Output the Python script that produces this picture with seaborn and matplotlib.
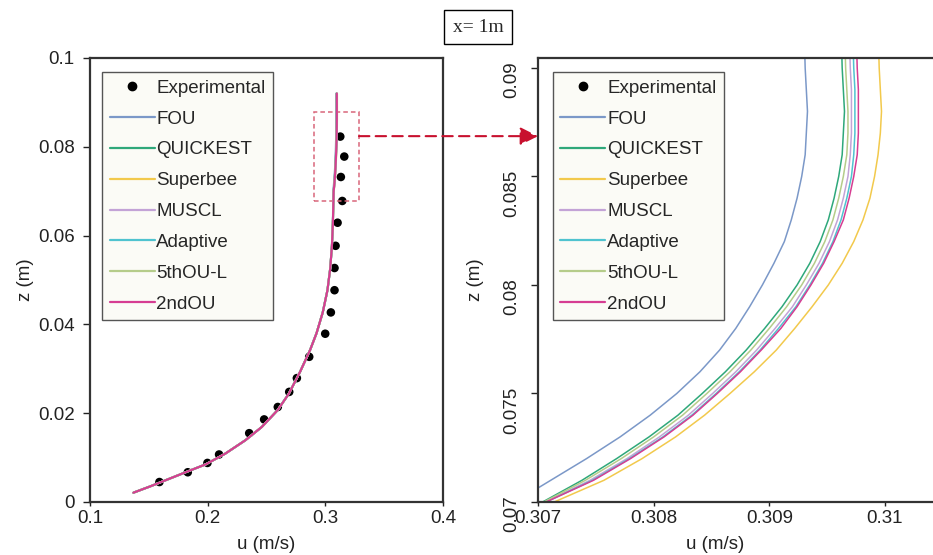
import numpy as np
import pandas as pd
import matplotlib
matplotlib.use("Agg")
import matplotlib.pyplot as plt
from matplotlib.lines import Line2D
from matplotlib.patches import Rectangle, ConnectionPatch
import seaborn as sns

# Experimental velocity profile (left panel dots)
z_exp = [0.0045, 0.0067, 0.0088, 0.0107, 0.0155, 0.0186, 0.0214, 0.0248, 0.0279,
         0.0327, 0.0379, 0.0427, 0.0477, 0.0527, 0.0577, 0.0629, 0.0678, 0.0732,
         0.0778, 0.0823]
u_exp = [0.1590, 0.1831, 0.1998, 0.2097, 0.2353, 0.2480, 0.2596, 0.2693, 0.2758,
         0.2863, 0.2999, 0.3047, 0.3078, 0.3078, 0.3087, 0.3104, 0.3144, 0.3132,
         0.3161, 0.3127]

# lower part of the simulated profile, all schemes overlap here
z_lower = [0.0021, 0.0035, 0.0050, 0.0068, 0.0085, 0.0109, 0.0139, 0.0169, 0.0207,
           0.0244, 0.0293, 0.0342, 0.0380, 0.0427, 0.0477, 0.0527, 0.0577, 0.0627]
u_lower = [0.1369, 0.1510, 0.1652, 0.1822, 0.1985, 0.2150, 0.2320, 0.2460, 0.2595,
           0.2690, 0.2785, 0.2870, 0.2925, 0.2978, 0.3018, 0.3042, 0.3056, 0.3064]

# upper part
z_upper = [0.070, 0.071, 0.072, 0.073, 0.074, 0.075, 0.076, 0.077, 0.078, 0.079, 0.080,
           0.081, 0.082, 0.083, 0.084, 0.085, 0.086, 0.087, 0.088, 0.089, 0.090, 0.092]
u_fou = [0.30680, 0.30711, 0.30742, 0.30771, 0.30797, 0.30820, 0.30840, 0.30857, 0.30871,
         0.30883, 0.30894, 0.30904, 0.30913, 0.30919, 0.30924, 0.30928, 0.30931, 0.30932,
         0.30933, 0.30932, 0.30931, 0.30930]
u_quickest = [0.30704, 0.30738, 0.30768, 0.30796, 0.30821, 0.30842, 0.30862, 0.30880, 0.30896,
              0.30911, 0.30924, 0.30935, 0.30944, 0.30951, 0.30956, 0.30960, 0.30963, 0.30964,
              0.30965, 0.30964, 0.30963, 0.30962]
u_superbee = [0.30714, 0.30757, 0.30790, 0.30819, 0.30844, 0.30866, 0.30887, 0.30906, 0.30922,
              0.30937, 0.30951, 0.30963, 0.30973, 0.30981, 0.30987, 0.30991, 0.30994, 0.30996,
              0.30997, 0.30996, 0.30995, 0.30994]
u_muscl = [0.30706, 0.30745, 0.30777, 0.30805, 0.30830, 0.30851, 0.30871, 0.30889, 0.30905,
           0.30920, 0.30932, 0.30943, 0.30952, 0.30959, 0.30964, 0.30968, 0.30970, 0.30971,
           0.30971, 0.30971, 0.30970, 0.30969]
u_adaptive = [0.30707, 0.30747, 0.30779, 0.30808, 0.30833, 0.30854, 0.30874, 0.30892, 0.30908,
              0.30923, 0.30935, 0.30946, 0.30955, 0.30962, 0.30967, 0.30971, 0.30973, 0.30974,
              0.30974, 0.30974, 0.30973, 0.30972]
u_5thoul = [0.30705, 0.30741, 0.30772, 0.30800, 0.30825, 0.30846, 0.30866, 0.30884, 0.30900,
            0.30915, 0.30928, 0.30939, 0.30948, 0.30955, 0.30960, 0.30964, 0.30967, 0.30968,
            0.30968, 0.30967, 0.30966, 0.30965]
u_2ndou = [0.30707, 0.30748, 0.30780, 0.30809, 0.30834, 0.30855, 0.30875, 0.30893, 0.30910,
           0.30924, 0.30936, 0.30947, 0.30956, 0.30964, 0.30969, 0.30973, 0.30976, 0.30977,
           0.30977, 0.30977, 0.30976, 0.30975]

schemes = ["FOU", "QUICKEST", "Superbee", "MUSCL", "Adaptive", "5thOU-L", "2ndOU"]
upper_values = [u_fou, u_quickest, u_superbee, u_muscl, u_adaptive, u_5thoul, u_2ndou]
colors = ["#7b98c8", "#2ea87a", "#f2c94c", "#c3a3d6", "#4fc3cf", "#b5cc8a", "#d63d92"]
palette = dict(zip(schemes, colors))

# build one long table of all simulated profiles
frames = []
for name, u_up in zip(schemes, upper_values):
    frames.append(pd.DataFrame({"scheme": name,
                                "z": z_lower + z_upper,
                                "u": u_lower + u_up}))
sim = pd.concat(frames, ignore_index=True)

sns.set_theme(style="white")
plt.rcParams["font.family"] = ["Liberation Sans", "DejaVu Sans"]

fig = plt.figure(figsize=(9.33, 5.55), dpi=100)
ax1 = fig.add_axes([90 / 933, 53 / 555, 353 / 933, 444 / 555])
ax2 = fig.add_axes([538 / 933, 53 / 555, 404.8 / 933, 444 / 555])

for ax, lw in [(ax1, 1.5), (ax2, 1.1)]:
    sns.lineplot(data=sim, x="u", y="z", hue="scheme", hue_order=schemes, palette=palette,
                 sort=False, estimator=None, lw=lw, legend=False, ax=ax)
    sns.scatterplot(x=u_exp, y=z_exp, color="black", s=38, edgecolor="none", ax=ax)
    for s in ax.spines.values():
        s.set_color("#333333")
        s.set_linewidth(1.6)

ax1.set_xlim(0.1, 0.4)
ax1.set_ylim(0, 0.1)
ax1.set_xticks([0.1, 0.2, 0.3, 0.4])
ax1.set_xticklabels(["0.1", "0.2", "0.3", "0.4"])
ax1.set_yticks([0, 0.02, 0.04, 0.06, 0.08, 0.1])
ax1.set_yticklabels(["0", "0.02", "0.04", "0.06", "0.08", "0.1"])

ax2.set_xlim(0.307, 0.3105)
ax2.set_ylim(0.07, 0.09046)
ax2.set_xticks([0.307, 0.308, 0.309, 0.31])
ax2.set_xticklabels(["0.307", "0.308", "0.309", "0.31"])
ax2.set_yticks([0.07, 0.075, 0.08, 0.085, 0.09])
ax2.set_yticklabels(["0.07", "0.075", "0.08", "0.085", "0.09"])

for ax in (ax1, ax2):
    ax.tick_params(axis="both", direction="out", colors="#222222", labelsize=13.5,
                   width=1, bottom=True, left=True)
    ax.tick_params(axis="x", length=3, pad=3)
    ax.tick_params(axis="y", length=5, pad=6)
    ax.set_xlabel("u (m/s)", fontsize=13.5, labelpad=1, color="#222222")
    ax.set_ylabel("z (m)", fontsize=13.5, color="#222222")

ax2.tick_params(axis="y", labelrotation=90, pad=8)
ax1.yaxis.set_label_coords(-0.159, 0.5)
ax2.yaxis.set_label_coords(-0.133, 0.5)
ax2.xaxis.set_label_coords((715 - 538) / 404.8, -0.077)
ax1.xaxis.set_label_coords(0.5, -0.077)

handles = [Line2D([], [], marker="o", ls="none", color="black", markersize=6)]
handles += [Line2D([], [], color=c, lw=1.6) for c in colors]
labels = ["Experimental"] + schemes
for ax, anchor in [(ax1, (0.034, 0.968)), (ax2, (0.037, 0.968))]:
    leg = ax.legend(handles, labels, loc="upper left", bbox_to_anchor=anchor,
                    borderaxespad=0, fontsize=13.5, frameon=True, fancybox=False,
                    handlelength=2.4, handletextpad=0.1, labelspacing=0.73,
                    borderpad=0.4)
    leg.get_frame().set_facecolor("#fbfbf6")
    leg.get_frame().set_edgecolor("#555555")
    leg.get_frame().set_linewidth(1.0)
    leg.get_frame().set_alpha(1)

# dashed box marking the zoomed region and the arrow to the right panel
box_x0, box_x1 = 0.2904, 0.3286
box_z0, box_z1 = 0.0678, 0.0878
arrow_z = 0.0824
ax1.add_patch(Rectangle((box_x0, box_z0), box_x1 - box_x0, box_z1 - box_z0,
                        fill=False, ec="#d9667a", lw=1.1, ls=(0, (3, 2))))
arrow_end_z = ax2.transData.inverted().transform(ax1.transData.transform((box_x1, arrow_z)))[1]
con = ConnectionPatch(xyA=(box_x1, arrow_z), coordsA=ax1.transData,
                      xyB=(0.307, arrow_end_z), coordsB=ax2.transData,
                      arrowstyle="-|>,head_length=0.9,head_width=0.45", ls=(0, (5, 3)),
                      color="#c8102e", lw=1.5, mutation_scale=12)
fig.add_artist(con)

fig.text(478 / 933, 1 - 27 / 555, "x= 1m", ha="center", va="center", fontsize=14,
         family="Liberation Serif",
         bbox=dict(boxstyle="square,pad=0.45", fc="white", ec="black", lw=1.0))

fig.savefig("out.png", dpi=100)
